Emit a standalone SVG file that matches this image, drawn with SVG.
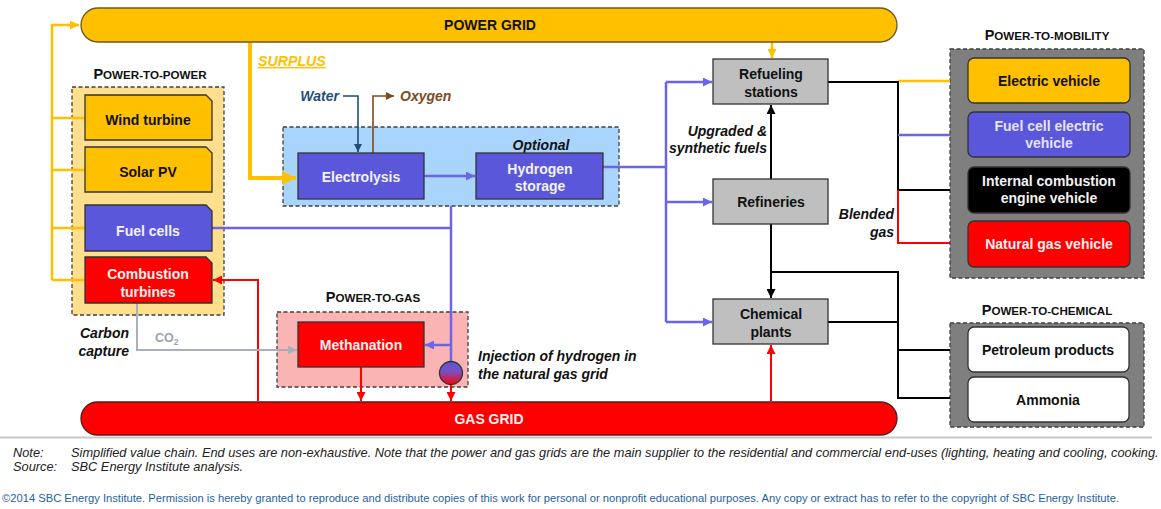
<svg xmlns="http://www.w3.org/2000/svg" width="1161" height="509" viewBox="0 0 1161 509">
<defs>
<style>
text{font-family:"Liberation Sans",Arial,sans-serif}
.nb{font-size:14px;font-weight:bold;text-anchor:middle}
.w{fill:#F2F2F2}
.k{fill:#111}
.it{font-style:italic;font-weight:bold;font-size:14px;fill:#111}
.ttl{font-weight:bold;font-size:11.6px;text-anchor:middle;fill:#111}
.cap{font-size:14.5px}
.box{stroke:#333;stroke-width:1.3}
.grp{stroke:#404040;stroke-width:1.3;stroke-dasharray:4 2.5}
.ln{fill:none}
.y{stroke:#FFC000;stroke-width:2.5}
.b{stroke:#6C65E8;stroke-width:2.5}
.r{stroke:#FF0000;stroke-width:2}
.bk{stroke:#000;stroke-width:2}
.g{stroke:#A9B0BA;stroke-width:2}
.note{font-size:12.8px;font-style:italic;fill:#222}
</style>
<marker id="aY" viewBox="0 0 10 10" refX="10" refY="5" markerWidth="9" markerHeight="9" markerUnits="userSpaceOnUse" orient="auto"><path d="M0,0 L10,5 L0,10 z" fill="#FFC000"/></marker>
<marker id="aYb" viewBox="0 0 10 10" refX="10" refY="5" markerWidth="14" markerHeight="15" markerUnits="userSpaceOnUse" orient="auto"><path d="M0,0 L10,5 L0,10 z" fill="#FFC000"/></marker>
<marker id="aB" viewBox="0 0 10 10" refX="10" refY="5" markerWidth="9" markerHeight="9" markerUnits="userSpaceOnUse" orient="auto"><path d="M0,0 L10,5 L0,10 z" fill="#6C65E8"/></marker>
<marker id="aR" viewBox="0 0 10 10" refX="10" refY="5" markerWidth="9" markerHeight="9" markerUnits="userSpaceOnUse" orient="auto"><path d="M0,0 L10,5 L0,10 z" fill="#FF0000"/></marker>
<marker id="aK" viewBox="0 0 10 10" refX="10" refY="5" markerWidth="9" markerHeight="9" markerUnits="userSpaceOnUse" orient="auto"><path d="M0,0 L10,5 L0,10 z" fill="#000"/></marker>
<marker id="aG" viewBox="0 0 10 10" refX="10" refY="5" markerWidth="9" markerHeight="9" markerUnits="userSpaceOnUse" orient="auto"><path d="M0,0 L10,5 L0,10 z" fill="#A9B0BA"/></marker>
<marker id="aW" viewBox="0 0 10 10" refX="10" refY="5" markerWidth="8" markerHeight="8" markerUnits="userSpaceOnUse" orient="auto"><path d="M0,0 L10,5 L0,10 z" fill="#1F4E79"/></marker>
<marker id="aO" viewBox="0 0 10 10" refX="10" refY="5" markerWidth="8" markerHeight="8" markerUnits="userSpaceOnUse" orient="auto"><path d="M0,0 L10,5 L0,10 z" fill="#7F4A1E"/></marker>
<linearGradient id="inj" x1="0" y1="0" x2="0" y2="1"><stop offset="0" stop-color="#5B57DB"/><stop offset="0.45" stop-color="#7A4FC0"/><stop offset="1" stop-color="#FF0000"/></linearGradient>
</defs>

<!-- groups (containers) -->
<g id="power-to-power">
<rect x="72" y="87" width="152" height="228" fill="#FDDF8E" class="grp"/>
<text class="ttl" x="150" y="79"><tspan class="cap">P</tspan>OWER-TO-POWER</text>
</g>
<g id="electrolysis-group">
<rect x="283" y="127" width="336" height="79" fill="#A9D4FB" class="grp"/>
<text class="it" x="541" y="150" text-anchor="middle">Optional</text>
</g>
<g id="power-to-gas">
<rect x="277" y="312" width="191" height="75" fill="#FBB4B4" class="grp"/>
<text class="ttl" x="373" y="302"><tspan class="cap">P</tspan>OWER-TO-GAS</text>
</g>
<g id="power-to-mobility">
<rect x="950" y="49" width="194" height="229" fill="#7F7F7F" class="grp"/>
<text class="ttl" x="1047" y="40"><tspan class="cap">P</tspan>OWER-TO-MOBILITY</text>
</g>
<g id="power-to-chemical">
<rect x="950" y="323" width="194" height="104" fill="#7F7F7F" class="grp"/>
<text class="ttl" x="1047" y="315"><tspan class="cap">P</tspan>OWER-TO-CHEMICAL</text>
</g>

<!-- connectors -->
<g id="connectors" class="ln">
<path class="y" d="M52,280 V25 H79" marker-end="url(#aY)"/>
<path class="y" d="M52,118 H85 M52,170 H85 M52,228 H85 M52,280 H85"/>
<path stroke="#FFC000" stroke-width="4" d="M250,42 V178 H296" marker-end="url(#aYb)"/>
<path class="y" stroke-width="2" d="M772,42 V58" marker-end="url(#aY)"/>
<path class="y" stroke-width="2" d="M898,81 H950"/>

<path class="bk" d="M828,82 H898 V190 H950"/>
<path class="bk" d="M771,179 V105" marker-end="url(#aK)"/>
<path class="bk" d="M771,224 V298" marker-end="url(#aK)"/>
<path class="bk" d="M771,272 H898 V398 H950 M828,322 H898 M898,350 H950"/>

<path class="b" d="M424,176 H475" marker-end="url(#aB)"/>
<path class="b" d="M603,167 H666 M666,82 V322"/>
<path class="b" d="M666,82 H712" marker-end="url(#aB)"/>
<path class="b" d="M666,202 H712" marker-end="url(#aB)"/>
<path class="b" d="M666,322 H712" marker-end="url(#aB)"/>
<path class="b" d="M212,228 H451 M451,206 V362"/>
<path class="b" d="M451,345 H425" marker-end="url(#aB)"/>
<path class="b" stroke-width="2" d="M898,135 H950"/>

<path class="r" d="M258,401 V280 H213" marker-end="url(#aR)"/>
<path class="r" d="M361,367 V401" marker-end="url(#aR)"/>
<path class="r" d="M451,385 V401" marker-end="url(#aR)"/>
<path class="r" d="M771,401 V345" marker-end="url(#aR)"/>
<path class="r" d="M898,190 V243 H950"/>

<path class="g" d="M137,303 V350 H297" marker-end="url(#aG)"/>
<path stroke="#1F4E79" stroke-width="1.6" d="M343,96 H358 V152" marker-end="url(#aW)"/>
<path stroke="#7F4A1E" stroke-width="1.6" d="M373,153 V96 H394" marker-end="url(#aO)"/>
</g>

<!-- grids -->
<g id="power-grid">
<rect x="81" y="8" width="816" height="34" rx="17" fill="#FFC000" stroke="#6B5A1E" stroke-width="1.3"/>
<text class="nb k" x="490" y="30">POWER GRID</text>
</g>
<g id="gas-grid">
<rect x="81" y="402" width="816" height="33" rx="16.5" fill="#FF0000" stroke="#5A1A1A" stroke-width="1.3"/>
<text class="nb w" x="489" y="424">GAS GRID</text>
</g>

<!-- nodes -->
<g id="wind-turbine"><path class="box" fill="#FFC000" d="M85,95 H206 L212,101 V140 H85 Z"/><text class="nb k" x="148" y="125">Wind turbine</text></g>
<g id="solar-pv"><path class="box" fill="#FFC000" d="M85,147 H206 L212,153 V192 H85 Z"/><text class="nb k" x="148" y="177">Solar PV</text></g>
<g id="fuel-cells"><path class="box" fill="#5B57DB" d="M85,205 H206 L212,211 V251 H85 Z"/><text class="nb w" x="148" y="236">Fuel cells</text></g>
<g id="combustion-turbines"><path class="box" fill="#FF0000" d="M85,257 H206 L212,263 V303 H85 Z"/><text class="nb w" x="148" y="279">Combustion</text><text class="nb w" x="148" y="297">turbines</text></g>

<g id="electrolysis"><rect class="box" x="298" y="153" width="126" height="46" fill="#5B57DB"/><text class="nb w" x="361" y="182">Electrolysis</text></g>
<g id="hydrogen-storage"><rect class="box" x="476" y="153" width="127" height="46" fill="#5B57DB"/><text class="nb w" x="540" y="174">Hydrogen</text><text class="nb w" x="540" y="191">storage</text></g>
<g id="methanation"><rect class="box" x="298" y="322" width="126" height="45" fill="#FF0000"/><text class="nb w" x="361" y="350">Methanation</text></g>
<g id="injection"><circle cx="451" cy="373" r="11.5" fill="url(#inj)" stroke="#333" stroke-width="1.3"/></g>

<g id="refueling-stations"><rect class="box" x="713" y="59" width="115" height="45" fill="#BFBFBF"/><text class="nb k" x="771" y="79">Refueling</text><text class="nb k" x="771" y="97">stations</text></g>
<g id="refineries"><rect class="box" x="713" y="179" width="115" height="45" fill="#BFBFBF"/><text class="nb k" x="771" y="207">Refineries</text></g>
<g id="chemical-plants"><rect class="box" x="713" y="299" width="115" height="45" fill="#BFBFBF"/><text class="nb k" x="771" y="319">Chemical</text><text class="nb k" x="771" y="337">plants</text></g>

<g id="electric-vehicle"><rect class="box" x="968" y="58" width="162" height="45" rx="6" fill="#FFC000"/><text class="nb k" x="1049" y="86">Electric vehicle</text></g>
<g id="fuel-cell-electric-vehicle"><rect class="box" x="968" y="112" width="162" height="45" rx="6" fill="#5B57DB"/><text class="nb" font-weight="normal" fill="#E4E4F8" x="1049" y="131">Fuel cell electric</text><text class="nb" font-weight="normal" fill="#E4E4F8" x="1049" y="148">vehicle</text></g>
<g id="ice-vehicle"><rect class="box" x="968" y="167" width="162" height="46" rx="6" fill="#000"/><text class="nb w" x="1049" y="186">Internal combustion</text><text class="nb w" x="1049" y="203">engine vehicle</text></g>
<g id="natural-gas-vehicle"><rect class="box" x="968" y="221" width="162" height="46" rx="6" fill="#FF0000"/><text class="nb w" x="1049" y="249">Natural gas vehicle</text></g>
<g id="petroleum-products"><rect class="box" x="968" y="327" width="161" height="45" rx="6" fill="#FFF"/><text class="nb k" x="1048" y="355">Petroleum products</text></g>
<g id="ammonia"><rect class="box" x="968" y="377" width="161" height="45" rx="6" fill="#FFF"/><text class="nb k" x="1048" y="405">Ammonia</text></g>

<!-- labels -->
<g id="labels">
<text x="258" y="66" font-size="14.2" font-style="italic" font-weight="bold" fill="#FFC000" text-decoration="underline">SURPLUS</text>
<text class="it" x="339" y="101" text-anchor="end" style="fill:#1F4E79">Water</text>
<text class="it" x="400" y="101" style="fill:#7F4A1E">Oxygen</text>
<text class="it" x="129" y="338" text-anchor="end">Carbon</text>
<text class="it" x="129" y="356" text-anchor="end">capture</text>
<text x="155" y="342" font-size="12.5" font-weight="bold" fill="#9AA4B0">CO<tspan font-size="8.5" dy="3">2</tspan></text>
<text class="it" x="478" y="361">Injection of hydrogen in</text>
<text class="it" x="478" y="379">the natural gas grid</text>
<text class="it" x="767" y="136" text-anchor="end">Upgraded &amp;</text>
<text class="it" x="767" y="153" text-anchor="end">synthetic fuels</text>
<text class="it" x="894" y="219" text-anchor="end">Blended</text>
<text class="it" x="894" y="237" text-anchor="end">gas</text>
</g>

<!-- footer -->
<g id="footer">
<path d="M0,437.5 H1152" stroke="#C8C8C8" stroke-width="2"/>
<text class="note" x="13" y="457">Note:</text>
<text class="note" x="71" y="457">Simplified value chain. End uses are non-exhaustive. Note that the power and gas grids are the main supplier to the residential and commercial end-uses (lighting, heating and cooling, cooking.</text>
<text class="note" x="13" y="471">Source:</text>
<text class="note" x="71" y="471">SBC Energy Institute analysis.</text>
<text x="2" y="502" font-size="11.2" fill="#1F5FA6">©2014 SBC Energy Institute. Permission is hereby granted to reproduce and distribute copies of this work for personal or nonprofit educational purposes. Any copy or extract has to refer to the copyright of SBC Energy Institute.</text>
</g>
</svg>
